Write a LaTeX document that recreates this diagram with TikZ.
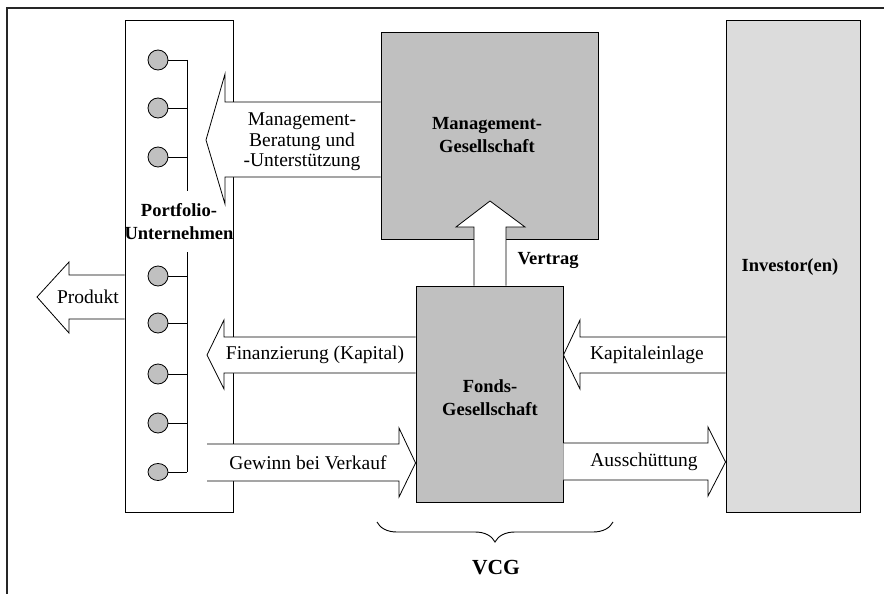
\documentclass[tikz,border=0pt]{standalone}
\usepackage{fontspec}
\setmainfont{Liberation Serif}
\usetikzlibrary{decorations.pathreplacing,shapes.geometric}
\definecolor{boxgray}{HTML}{C0C0C0}
\definecolor{invgray}{HTML}{DCDCDC}
\tikzset{
  box/.style={draw=black, line width=0.9pt, inner sep=0pt},
  dot/.style={draw=black, fill=boxgray, line width=0.8pt, circle, minimum size=20pt, inner sep=0pt},
  blockarrow/.style={draw=black, fill=white, line width=0.8pt, line join=miter},
  lbl/.style={font=\fontsize{19.5}{20.5}\selectfont, align=center, inner sep=0pt},
  blbl/.style={font=\fontsize{18.5}{23}\selectfont\bfseries, align=center, inner sep=0pt},
  wire/.style={draw=black, line width=0.8pt}
}
\begin{document}
\begin{tikzpicture}[x=1pt,y=-1pt]
\useasboundingbox (0,0) rectangle (884,594);
% outer frame
\draw[line width=1.4pt, draw=black!85] (7,600) -- (7,8) -- (890,8);
% boxes
\node[box, fill=white, minimum width=108pt, minimum height=492pt] (pu) at (179,266) {};
\node[box, fill=boxgray, minimum width=217pt, minimum height=207pt] (mg) at (489.5,135.5) {};
\node[box, fill=boxgray, minimum width=147pt, minimum height=216pt] (fg) at (489.5,394) {};
\node[box, fill=invgray, minimum width=134pt, minimum height=492pt] (inv) at (793,266) {};
% circles and bus
\coordinate (bustop) at (187,60);
\coordinate (busgap1) at (187,191);
\coordinate (busgap2) at (187,252);
\coordinate (busbot) at (187,472);
\foreach \i/\yy in {1/60,2/108,3/157,4/276,5/323,6/374,7/423}{
  \node[dot] (c\i) at (158,\yy) {};
  \draw[wire] (c\i.east) -- (c\i.east -| bustop);
}
\node[draw=black, fill=boxgray, line width=0.8pt, ellipse, minimum width=20pt, minimum height=17pt, inner sep=0pt] (c8) at (158,472) {};
\draw[wire] (c8.east) -- (c8.east -| bustop);
\draw[wire] (bustop) -- (busgap1);
\draw[wire] (busgap2) -- (busbot);
% block arrows
\draw[blockarrow] (mg.west |- 0,102) -- (225,102) -- (225,74) -- (206,140) -- (225,204) -- (225,177) -- (mg.west |- 0,177);
\draw[blockarrow] (fg.north -| 474,0) -- (474,227) -- (456,227) -- (490,201) -- (525,227) -- (506,227) -- (fg.north -| 506,0);
\draw[blockarrow] (pu.west |- 0,275) -- (69,275) -- (69,262) -- (37,297) -- (69,333) -- (69,319) -- (pu.west |- 0,319);
\draw[blockarrow] (fg.west |- 0,337) -- (224,337) -- (224,320) -- (207,355) -- (224,389) -- (224,373) -- (fg.west |- 0,373);
\draw[blockarrow] (207,444) -- (399,444) -- (399,428) -- (fg.west |- 0,463) -- (399,497) -- (399,481) -- (207,481);
\draw[blockarrow] (inv.west |- 0,337) -- (580,337) -- (580,320) -- (fg.east |- 0,355) -- (580,389) -- (580,373) -- (inv.west |- 0,373);
\draw[blockarrow] (fg.east |- 0,443) -- (708,443) -- (708,427) -- (inv.west |- 0,462) -- (708,496) -- (708,480) -- (fg.east |- 0,480);
% labels
\node[blbl] (put) at (179,221.5) {Portfolio-\\Unternehmen};
\node[blbl] (mgt) at (487,135) {Management-\\Gesellschaft};
\node[blbl] (fgt) at (490,398) {Fonds-\\Gesellschaft};
\node[blbl] (invt) at (790,267) {Investor(en)};
\node[blbl] (vt) at (548,260) {Vertrag};
\node[lbl] (mbt) at (302,142) {Management-\\Beratung und\\-Unterstützung};
\node[lbl] (fin) at (315,355) {Finanzierung (Kapital)};
\node[lbl] (gew) at (308,463) {Gewinn bei Verkauf};
\node[lbl] (prod) at (88,297) {Produkt};
\node[lbl] (kap) at (647,355) {Kapitaleinlage};
\node[lbl] (aus) at (644,462) {Ausschüttung};
% brace
\coordinate (brL) at (377,522);
\coordinate (brR) at (613,522);
\draw[line width=0.9pt, decorate, decoration={brace, amplitude=20pt}] (brR) -- (brL);
\node[font=\fontsize{21.5}{24}\selectfont\bfseries, inner sep=0pt] (vcg) at (496,568) {VCG};
\end{tikzpicture}
\end{document}
